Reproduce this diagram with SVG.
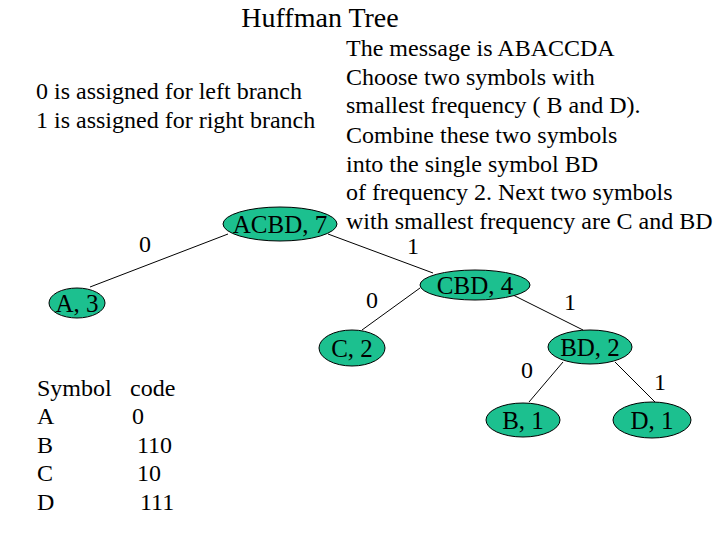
<svg xmlns="http://www.w3.org/2000/svg" width="720" height="540" viewBox="0 0 720 540">
<style>
text{font-family:"Liberation Serif","Times New Roman",serif;fill:#000}
.t{font-size:24px}
.n{font-size:25px;text-anchor:middle}
.b{font-size:24px;text-anchor:middle}
ellipse{fill:#1CC08F;stroke:#000;stroke-width:1}
line{stroke:#000;stroke-width:1}
</style>
<rect width="720" height="540" fill="#fff"/>
<text x="320" y="27" style="font-size:28px;text-anchor:middle">Huffman Tree</text>
<text class="t" x="36" y="99">0 is assigned for left branch</text>
<text class="t" x="36" y="128">1 is assigned for right branch</text>
<g id="desc" class="t">
<text x="346" y="56">The message is ABACCDA</text>
<text x="346" y="85">Choose two symbols with</text>
<text x="346" y="113">smallest frequency ( B and D).</text>
<text x="346" y="143">Combine these two symbols</text>
<text x="346" y="172">into the single symbol BD</text>
<text x="346" y="200">of frequency 2. Next two symbols</text>
<text x="346" y="229">with smallest frequency are C and BD</text>
</g>
<g id="connectors">
<line x1="228" y1="234" x2="90" y2="287"/>
<line x1="328" y1="234" x2="433" y2="273"/>
<line x1="420" y1="288" x2="362" y2="330"/>
<line x1="513" y1="295" x2="583" y2="330"/>
<line x1="563" y1="362" x2="529" y2="402"/>
<line x1="615" y1="362" x2="655" y2="402"/>
</g>
<g id="labels" class="b">
<text x="145" y="252">0</text>
<text x="413" y="254">1</text>
<text x="372" y="308">0</text>
<text x="570" y="310">1</text>
<text x="527" y="378">0</text>
<text x="660" y="390">1</text>
</g>
<g id="n-acbd"><ellipse cx="280" cy="224" rx="57" ry="17"/><text class="n" x="280" y="233">ACBD, 7</text></g>
<g id="n-a"><ellipse cx="77" cy="303" rx="28" ry="15"/><text class="n" x="77" y="312">A, 3</text></g>
<g id="n-cbd"><ellipse cx="475" cy="285" rx="55" ry="15"/><text class="n" x="475" y="294">CBD, 4</text></g>
<g id="n-c"><ellipse cx="352" cy="348" rx="33" ry="18"/><text class="n" x="352" y="357">C, 2</text></g>
<g id="n-bd"><ellipse cx="590" cy="347" rx="42" ry="17"/><text class="n" x="590" y="356">BD, 2</text></g>
<g id="n-b"><ellipse cx="523" cy="420" rx="37" ry="17"/><text class="n" x="523" y="429">B, 1</text></g>
<g id="n-d"><ellipse cx="652" cy="420" rx="39" ry="18"/><text class="n" x="652" y="429">D, 1</text></g>
<g id="table" class="t">
<text x="37" y="396">Symbol</text><text x="130" y="396">code</text>
<text x="37" y="424">A</text><text x="132" y="424">0</text>
<text x="37" y="453">B</text><text x="137" y="453">110</text>
<text x="37" y="481">C</text><text x="137" y="481">10</text>
<text x="37" y="510">D</text><text x="140" y="510">111</text>
</g>
</svg>
